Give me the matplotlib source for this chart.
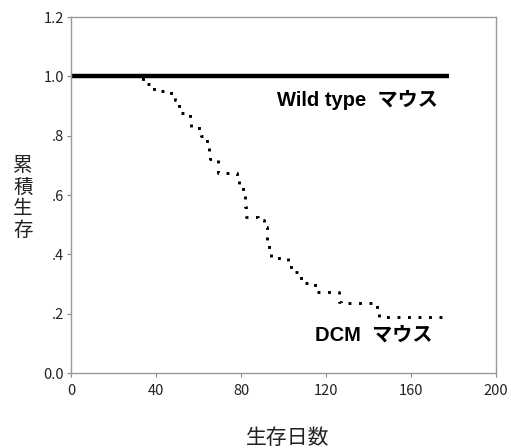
import matplotlib
matplotlib.use("Agg")
import matplotlib.pyplot as plt

# Data
wt_days = [0, 178]
wt_surv = [1.0, 1.0]

dcm_days = [0, 34, 39, 47, 49, 51, 56, 56.5, 61, 64, 65, 65.5, 69, 69.2,
            78, 79, 81, 82, 82.5, 88, 91, 92, 93, 94, 102, 105, 108, 109,
            115, 126, 127, 144, 145, 178]
dcm_surv = [1.0, 0.976, 0.951, 0.934, 0.92, 0.875, 0.85, 0.827, 0.80, 0.77,
            0.74, 0.723, 0.70, 0.673, 0.65, 0.63, 0.60, 0.56, 0.527, 0.515,
            0.493, 0.45, 0.42, 0.387, 0.359, 0.34, 0.315, 0.303, 0.275, 0.24,
            0.235, 0.21, 0.19, 0.19]

xticks = [0, 40, 80, 120, 160, 200]
yticks = [0.0, 0.2, 0.4, 0.6, 0.8, 1.0, 1.2]
ytick_labels = ["0.0", ".2", ".4", ".6", ".8", "1.0", "1.2"]

JP = ['Noto Sans CJK JP', 'DejaVu Sans']
BOLD = ['Liberation Sans', 'Noto Sans CJK JP', 'DejaVu Sans']

fig = plt.figure(figsize=(5.11, 4.48), dpi=100)
ax = fig.add_axes([0.139, 0.167, 0.832, 0.795])

ax.step(dcm_days, dcm_surv, where='post', color='black', lw=2.1,
        linestyle=(0, (1, 2.6)), dash_capstyle='butt')
ax.plot(wt_days, wt_surv, color='black', lw=3.2, solid_capstyle='butt')

ax.set_xlim(0, 200)
ax.set_ylim(0, 1.2)
ax.set_xticks(xticks)
ax.set_xticklabels([str(v) for v in xticks], family=JP, fontsize=10.5, color='#222222')
ax.set_yticks(yticks)
ax.set_yticklabels(ytick_labels, family=JP, fontsize=10.5, color='#222222')
ax.tick_params(axis='both', direction='out', length=3, width=0.8, color='#888888', pad=2)
ax.tick_params(axis='x', pad=5)
for s in ax.spines.values():
    s.set_color('#999999')
    s.set_linewidth(1.0)

ax.text(97, 0.92, "Wild type  マウス", family=BOLD, fontweight='bold',
        fontsize=14.5, ha='left', va='center', color='black')
ax.text(115, 0.128, "DCM  マウス", family=BOLD, fontweight='bold',
        fontsize=14.5, ha='left', va='center', color='black')

fig.text(23 / 511, 1 - 198 / 448, "累\n積\n生\n存", family=JP, fontsize=14,
         ha='center', va='center', linespacing=1.05, color='#222222')
fig.text(288 / 511, 1 - 438 / 448, "生存日数", family=JP, fontsize=15,
         ha='center', va='center', color='#222222')

fig.savefig("out.png", dpi=100)
